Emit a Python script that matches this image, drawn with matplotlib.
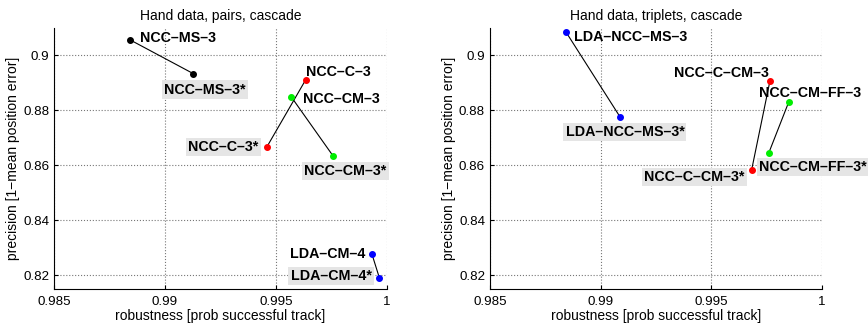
import matplotlib
matplotlib.use('Agg')
import matplotlib.pyplot as plt
from matplotlib.ticker import FuncFormatter

plt.rcParams['font.family'] = ['Liberation Sans', 'DejaVu Sans']

# pairs panel
pair_names = ['NCC–MS–3', 'NCC–MS–3*', 'NCC–C–3', 'NCC–C–3*',
              'NCC–CM–3', 'NCC–CM–3*', 'LDA–CM–4', 'LDA–CM–4*']
pair_rob = [0.98842, 0.99127, 0.99634, 0.99458, 0.99568, 0.99758, 0.99932, 0.99966]
pair_prec = [0.9057, 0.8934, 0.8912, 0.8666, 0.8850, 0.8633, 0.8277, 0.8189]
pair_colors = ['k', 'k', 'r', 'r', '#00ee00', '#00ee00', 'b', 'b']

# triplets panel
trip_names = ['LDA–NCC–MS–3', 'LDA–NCC–MS–3*', 'NCC–C–CM–3', 'NCC–C–CM–3*',
              'NCC–CM–FF–3', 'NCC–CM–FF–3*']
trip_rob = [0.98842, 0.99087, 0.99765, 0.99682, 0.99849, 0.99760]
trip_prec = [0.9087, 0.8777, 0.8908, 0.8583, 0.8829, 0.8646]
trip_colors = ['b', 'b', 'r', 'r', '#00ee00', '#00ee00']

# label placement (pixel offsets, alignment)
pair_offsets = [(10, 2, 'left'), (12, -16, 'center'), (0, 8, 'left'), (-8, 0, 'right'),
                (12, -2, 'left'), (12, -15, 'center'), (-7, 0, 'right'), (-8, 2, 'right')]
trip_offsets = [(8, -5, 'left'), (5, -15, 'center'), (-1, 8, 'right'), (-7, -7, 'right'),
                (21, 9, 'center'), (-10, -14, 'left')]

xticks = [0.985, 0.99, 0.995, 1.0]
yticks = [0.82, 0.84, 0.86, 0.88, 0.9]


def draw(ax, names, rob, prec, colors, offsets, title):
    for i in range(0, len(names), 2):
        ax.plot(rob[i:i + 2], prec[i:i + 2], '-', color='k', lw=0.8, zorder=2)
    for i, n in enumerate(names):
        ax.plot(rob[i], prec[i], 'o', color=colors[i], ms=4, zorder=5)
        dx, dy, ha = offsets[i]
        box = None
        if n.endswith('*'):
            box = dict(boxstyle='square,pad=0.15', fc='#e5e5e5', ec='none')
        ax.annotate(n, (rob[i], prec[i]), xytext=(dx * 0.72, dy * 0.72),
                    textcoords='offset points', ha=ha, va='center',
                    fontsize=10.3, fontweight='bold', bbox=box,
                    annotation_clip=False, zorder=4)
    ax.set_xlim(0.985, 1.0)
    ax.set_ylim(0.815, 0.91)
    ax.set_xticks(xticks)
    ax.set_yticks(yticks)
    ax.xaxis.set_major_formatter(FuncFormatter(lambda v, p: '%g' % round(v, 4)))
    ax.yaxis.set_major_formatter(FuncFormatter(lambda v, p: '%g' % round(v, 4)))
    ax.grid(True, linestyle=':', color='#777777', lw=0.8)
    for s in ['top', 'right']:
        ax.spines[s].set_visible(False)
    ax.tick_params(direction='in', labelsize=9.6, length=3)
    ax.tick_params(axis='x', pad=5)
    ax.set_title(title, fontsize=10)
    ax.set_xlabel('robustness [prob successful track]', fontsize=10, labelpad=1)
    ax.set_ylabel('precision [1−mean position error]', fontsize=10, labelpad=2)


fig = plt.figure(figsize=(8.68, 3.28), dpi=100)
ax1 = fig.add_axes([0.0622, 0.119, 0.3837, 0.7957])
ax2 = fig.add_axes([0.5645, 0.119, 0.3825, 0.7957])

draw(ax1, pair_names, pair_rob, pair_prec, pair_colors, pair_offsets,
     'Hand data, pairs, cascade')
draw(ax2, trip_names, trip_rob, trip_prec, trip_colors, trip_offsets,
     'Hand data, triplets, cascade')

fig.savefig('out.png', dpi=100)
